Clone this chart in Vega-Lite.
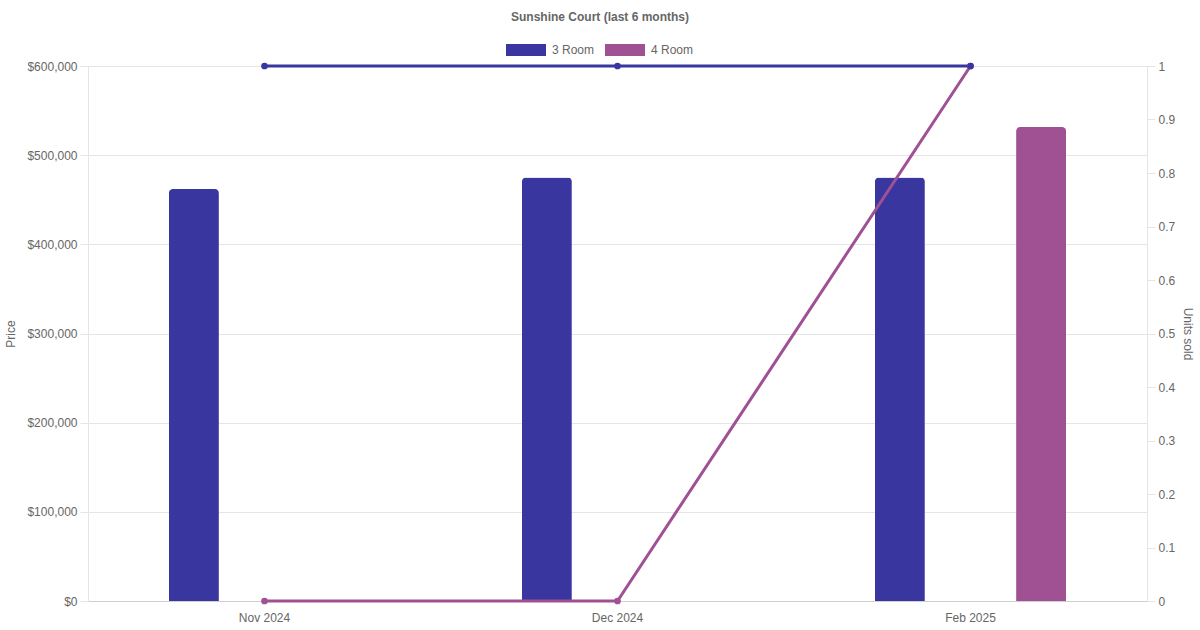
{
  "$schema": "https://vega.github.io/schema/vega-lite/v6.json",
  "width": 1059,
  "height": 535,
  "autosize": {"type": "none"},
  "padding": {"left": 88, "top": 66, "right": 53, "bottom": 29},
  "background": "white",
  "title": {
    "text": "Sunshine Court (last 6 months)",
    "font": "Liberation Sans",
    "fontSize": 12,
    "fontWeight": "bold",
    "color": "#666666",
    "anchor": "middle",
    "frame": "group",
    "dx": -17.5,
    "offset": 6
  },
  "config": {
    "view": {"stroke": null},
    "axis": {
      "labelFont": "Liberation Sans",
      "labelFontSize": 12,
      "labelColor": "#666666",
      "titleFont": "Liberation Sans",
      "titleFontSize": 12,
      "titleFontWeight": "normal",
      "titleColor": "#666666",
      "gridColor": "#e5e5e5",
      "domainColor": "#e5e5e5",
      "tickColor": "#e5e5e5",
      "tickSize": 8
    },
    "legend": {
      "labelFont": "Liberation Sans",
      "labelFontSize": 12,
      "labelColor": "#666666"
    }
  },
  "data": {
    "values": [
      {"month": "Nov 2024", "type": "4 Room", "price": null, "units": 0},
      {"month": "Dec 2024", "type": "4 Room", "price": null, "units": 0},
      {"month": "Feb 2025", "type": "4 Room", "price": 531500, "units": 1},
      {"month": "Nov 2024", "type": "3 Room", "price": 462000, "units": 1},
      {"month": "Dec 2024", "type": "3 Room", "price": 475000, "units": 1},
      {"month": "Feb 2025", "type": "3 Room", "price": 475000, "units": 1}
    ]
  },
  "encoding": {
    "x": {
      "field": "month",
      "type": "nominal",
      "sort": ["Nov 2024", "Dec 2024", "Feb 2025"],
      "scale": {"paddingInner": 0, "paddingOuter": 0},
      "axis": {
        "title": null,
        "labelAngle": 0,
        "ticks": false,
        "labelPadding": 11,
        "domainColor": "#cfcfcf",
        "grid": false
      }
    }
  },
  "layer": [
    {
      "mark": {"type": "bar", "width": 50, "cornerRadiusTopLeft": 4, "cornerRadiusTopRight": 4},
      "encoding": {
        "xOffset": {
          "field": "type",
          "type": "nominal",
          "scale": {"domain": ["3 Room", "4 Room"], "paddingInner": 0, "paddingOuter": 0.25}
        },
        "y": {
          "field": "price",
          "type": "quantitative",
          "scale": {"domain": [0, 600000], "nice": false},
          "axis": {
            "orient": "left",
            "title": "Price",
            "values": [0, 100000, 200000, 300000, 400000, 500000, 600000],
            "format": "$,.0f",
            "grid": true,
            "labelPadding": 3,
            "titlePadding": 9
          }
        },
        "color": {
          "field": "type",
          "type": "nominal",
          "scale": {"domain": ["3 Room", "4 Room"], "range": ["#3936a0", "#9f5193"]},
          "legend": {
            "title": null,
            "orient": "none",
            "direction": "horizontal",
            "columns": 2,
            "legendX": 418,
            "legendY": -36,
            "symbolType": "M-1,-0.3H1V0.3H-1Z",
            "symbolSize": 1600,
            "symbolStrokeWidth": 0,
            "symbolOpacity": 1,
            "labelOffset": 6,
            "columnPadding": 10
          }
        }
      }
    },
    {
      "encoding": {
        "y": {
          "field": "units",
          "type": "quantitative",
          "scale": {"domain": [0, 1], "nice": false},
          "axis": {
            "orient": "right",
            "title": "Units sold",
            "values": [0, 0.1, 0.2, 0.3, 0.4, 0.5, 0.6, 0.7, 0.8, 0.9, 1],
            "format": ".1~f",
            "grid": false,
            "labelPadding": 3,
            "titlePadding": 6
          }
        }
      },
      "layer": [
        {
          "mark": {"type": "line", "strokeWidth": 3},
          "encoding": {
            "stroke": {
              "field": "type",
              "type": "nominal",
              "scale": {"domain": ["3 Room", "4 Room"], "range": ["#3936a0", "#9f5193"]},
              "legend": null
            }
          }
        },
        {
          "mark": {"type": "circle", "size": 45, "opacity": 1},
          "encoding": {
            "fill": {
              "field": "type",
              "type": "nominal",
              "scale": {"domain": ["3 Room", "4 Room"], "range": ["#3936a0", "#9f5193"]},
              "legend": null
            }
          }
        }
      ]
    }
  ],
  "resolve": {"scale": {"y": "independent"}}
}
